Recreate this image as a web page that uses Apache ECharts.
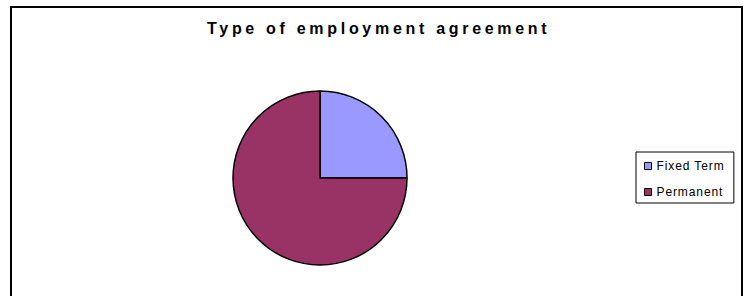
<!DOCTYPE html>
<html>
<head>
<meta charset="utf-8">
<script src="https://cdn.jsdelivr.net/npm/echarts@6/dist/echarts.min.js"></script>
<style>
  html, body { margin: 0; padding: 0; background: #fff; }
  #chart { width: 749px; height: 296px; }
  /* the original spreads its letters out, canvas text can't, svg text can */
  #chart text { letter-spacing: 0.9px; }
  #chart text[style*="bold"], #chart text[font-weight="bold"] { letter-spacing: 3.7px; }
</style>
</head>
<body>
<div id="chart"></div>
<script>
const titleText = 'Type of employment agreement'
const categories = ['Fixed Term', 'Permanent']
const values = [25, 75]
const colors = ['#9999FF', '#993366']

const myechart = echarts.init(document.getElementById('chart'), null, { renderer: 'svg' })

myechart.setOption({
  animation: false,
  color: colors,
  title: {
    text: titleText,
    left: 207,
    top: 20,
    padding: 0,
    textStyle: {
      fontFamily: 'Arial',
      fontWeight: 'bold',
      fontSize: 16,
      lineHeight: 16,
      color: '#000'
    }
  },
  legend: {
    orient: 'vertical',
    left: 636,
    top: 152,
    padding: [8, 18, 5, 8],
    itemWidth: 7,
    itemHeight: 7,
    itemGap: 14,
    icon: 'rect',
    borderColor: '#000',
    borderWidth: 1,
    itemStyle: { borderColor: '#000', borderWidth: 1 },
    textStyle: {
      fontFamily: 'Arial',
      fontSize: 12,
      lineHeight: 12,
      color: '#000'
    },
    data: categories
  },
  graphic: [
    {
      type: 'rect',
      silent: true,
      shape: { x: 11, y: 7, width: 731, height: 300 },
      style: { fill: 'none', stroke: '#000', lineWidth: 2 }
    }
  ],
  series: [
    {
      type: 'pie',
      center: [320, 178],
      radius: 87,
      startAngle: 90,
      clockwise: true,
      label: { show: false },
      labelLine: { show: false },
      emphasis: { disabled: true },
      itemStyle: { borderColor: '#000', borderWidth: 1.5 },
      data: categories.map((name, i) => ({ name: name, value: values[i] }))
    }
  ]
})
</script>
</body>
</html>
